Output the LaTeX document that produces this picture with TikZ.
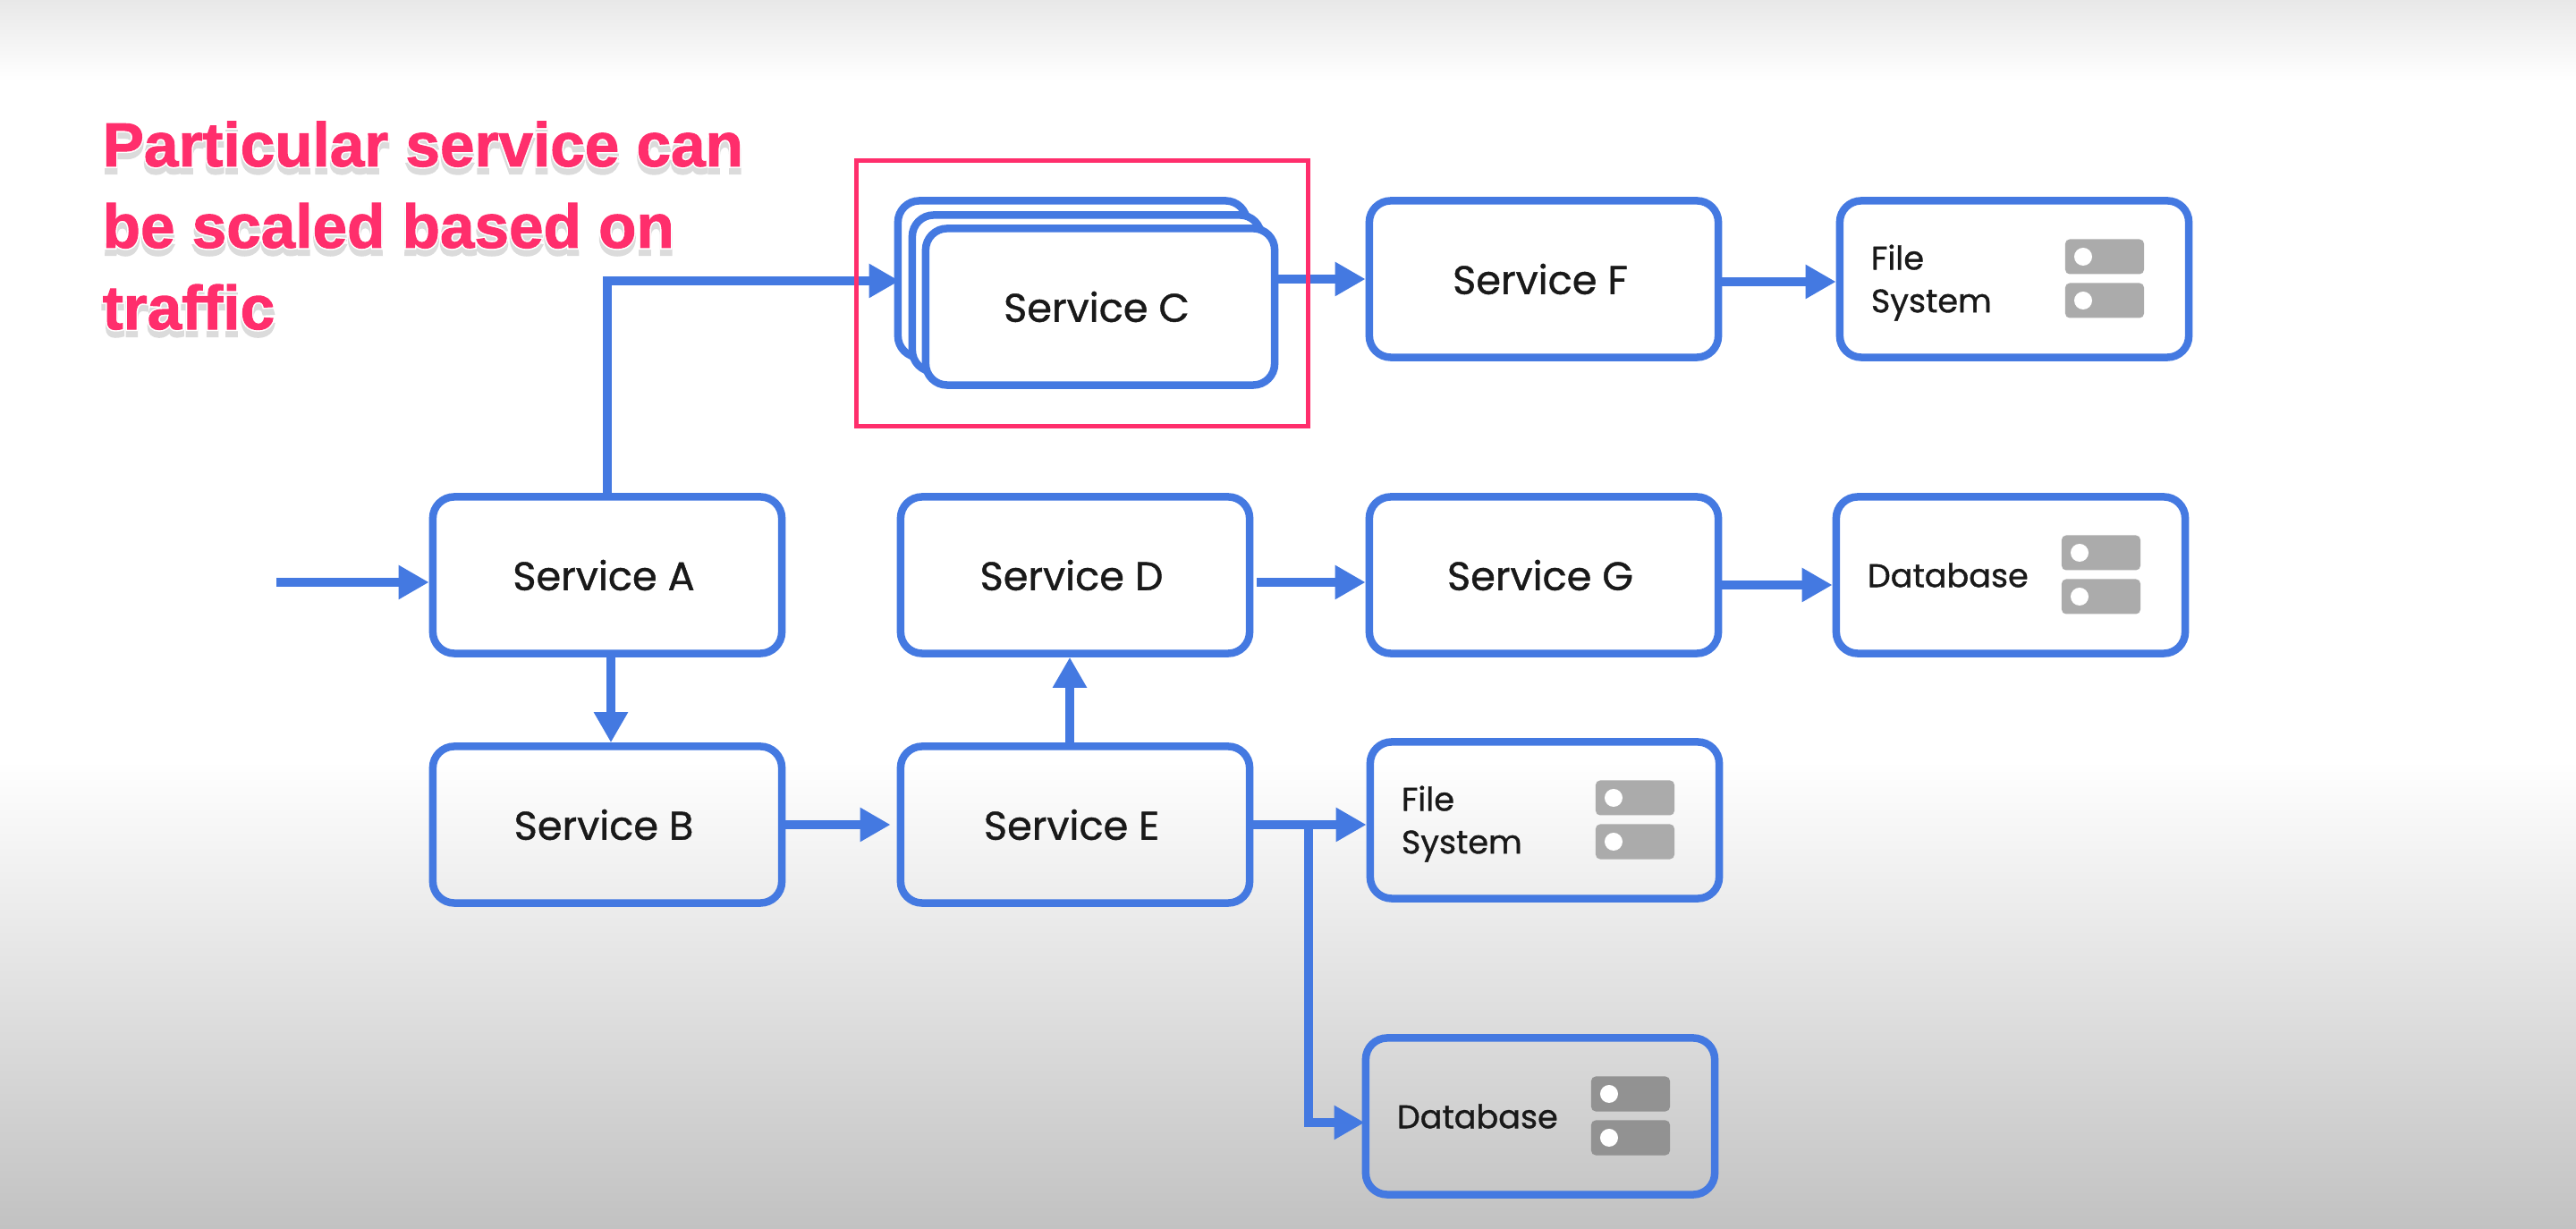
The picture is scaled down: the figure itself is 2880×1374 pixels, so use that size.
\documentclass[tikz,border=0pt]{standalone}
\usepackage{fontspec}
\usetikzlibrary{arrows.meta}
\newfontfamily\boxfont{Poppins}[FakeBold=0.9]
\newfontfamily\calloutfont{Liberation Sans Bold}[FakeBold=1.4]
\newfontfamily\halofont{Liberation Sans Bold}[FakeBold=6]
\definecolor{flowblue}{HTML}{4479E1}
\definecolor{notepink}{HTML}{FF2E6C}
\definecolor{barlight}{HTML}{ABABAB}
\definecolor{bardark}{HTML}{929292}
\newcommand\halotext[1]{\rlap{\raisebox{-2pt}{\halofont\color{black!14}#1}}\rlap{\halofont\color{white}#1}{\calloutfont\color{notepink}#1}}
\tikzset
{
	boxnode/.style     = {rectangle, draw=flowblue, line width=0.085cm, rounded corners=0.24cm, minimum width=3.9cm, minimum height=1.75cm, text=black!90},
	servicenode/.style = {boxnode, align=center, font=\boxfont\fontsize{12.7}{14}\selectfont, execute at end node={\hspace*{0.08cm}}},
	storenode/.style   = {boxnode, align=left, text width=3.2cm, inner xsep=0.35cm, font=\boxfont\fontsize{10.4}{13.6}\selectfont},
	serverbar/.style   = {rectangle, rounded corners=0.05cm, minimum width=0.88cm, minimum height=0.39cm, inner sep=0pt, path picture={\fill[white] ([xshift=0.2cm]path picture bounding box.west) circle (0.1cm);}},
	flow/.style        = {draw=flowblue, line width=0.095cm, -{Triangle[length=0.34cm,width=0.36cm]}}
}

\begin{document}
\begin{tikzpicture}[x=0.01cm, y=-0.01cm]
\fill[white] (0,0) rectangle (2880,1374);
\fill[top color=black!9, bottom color=white] (0,0) rectangle (2880,90);
\fill[top color=white, bottom color=black!24] (0,850) rectangle (2880,1374);

\node (note)	[anchor=north west, align=left, inner sep=0pt, font=\fontsize{19.7}{25.9}\selectfont] at (114,135) {\halotext{Particular service can}\\ \halotext{be scaled based on}\\ \halotext{traffic}};

\node (sA)		[servicenode]								at (679,643)					{Service A};
\node (sB)		[servicenode]								at ([shift=({0,279})]sA)		{Service B};
\node (sD)		[servicenode]								at ([shift=({523,0})]sA)		{Service D};
\node (sE)		[servicenode]								at ([shift=({0,279})]sD)		{Service E};
\node (sG)		[servicenode]								at ([shift=({524,0})]sD)		{Service G};
\node (sF)		[servicenode]								at ([shift=({0,-331})]sG)		{Service F};
\node (sCback)	[servicenode,fill=white]					at (1199,312)					{};
\node (sCmid)	[servicenode,fill=white]					at ([shift=({16,16})]sCback)	{};
\node (sC)		[servicenode,fill=white]					at ([shift=({15,15})]sCmid)		{Service C};
\node (fsA)		[storenode,text depth=0.49cm]				at ([shift=({526,0})]sF)		{File\\System};
\node (dbA)		[storenode]									at ([shift=({522,0})]sG)		{Database};
\node (fsB)		[storenode,text depth=0.49cm]				at (1727,917)					{File\\System};
\node (dbB)		[storenode]									at ([shift=({-5,331})]fsB)		{Database};

\foreach \store/\shade in {fsA/barlight,dbA/barlight,fsB/barlight,dbB/bardark}
{
	\node (\store-top)		[serverbar,fill=\shade]		at ([shift=({101,-25})]\store)	{};
	\node (\store-bottom)	[serverbar,fill=\shade]		at ([shift=({101,24})]\store)	{};
}

\coordinate (inA)	at (309,651);
\coordinate (fork)	at (1463,922);

\path
(inA)						edge[flow]	(sA.west |- inA)
(sA.south -| 683,0)			edge[flow]	(sB.north -| 683,0)
(sB.east)					edge[flow]	([shift=({-7,0})]sE.west)
(sE.north -| 1196,0)		edge[flow]	(sD.south -| 1196,0)
(sE.east)					edge[flow]	(fsB.west |- sE.east)
([shift=({4,8})]sD.east)	edge[flow]	([shift=({0,8})]sG.west)
([shift=({0,11})]sG.east)	edge[flow]	([shift=({0,11})]dbA.west)
(sC.east |- sF.west)		edge[flow]	(sF.west)
([shift=({0,3})]sF.east)	edge[flow]	([shift=({0,3})]fsA.west);
\draw[flow] (sA.north) |- ([shift=({6,2})]sCback.west);
\draw[flow] (fork) |- ([shift=({3,7})]dbB.west);

\node (focus)	[rectangle, draw=notepink, line width=0.05cm, minimum width=5.04cm, minimum height=2.96cm] at (1210,328) {};
\end{tikzpicture}
\end{document}
